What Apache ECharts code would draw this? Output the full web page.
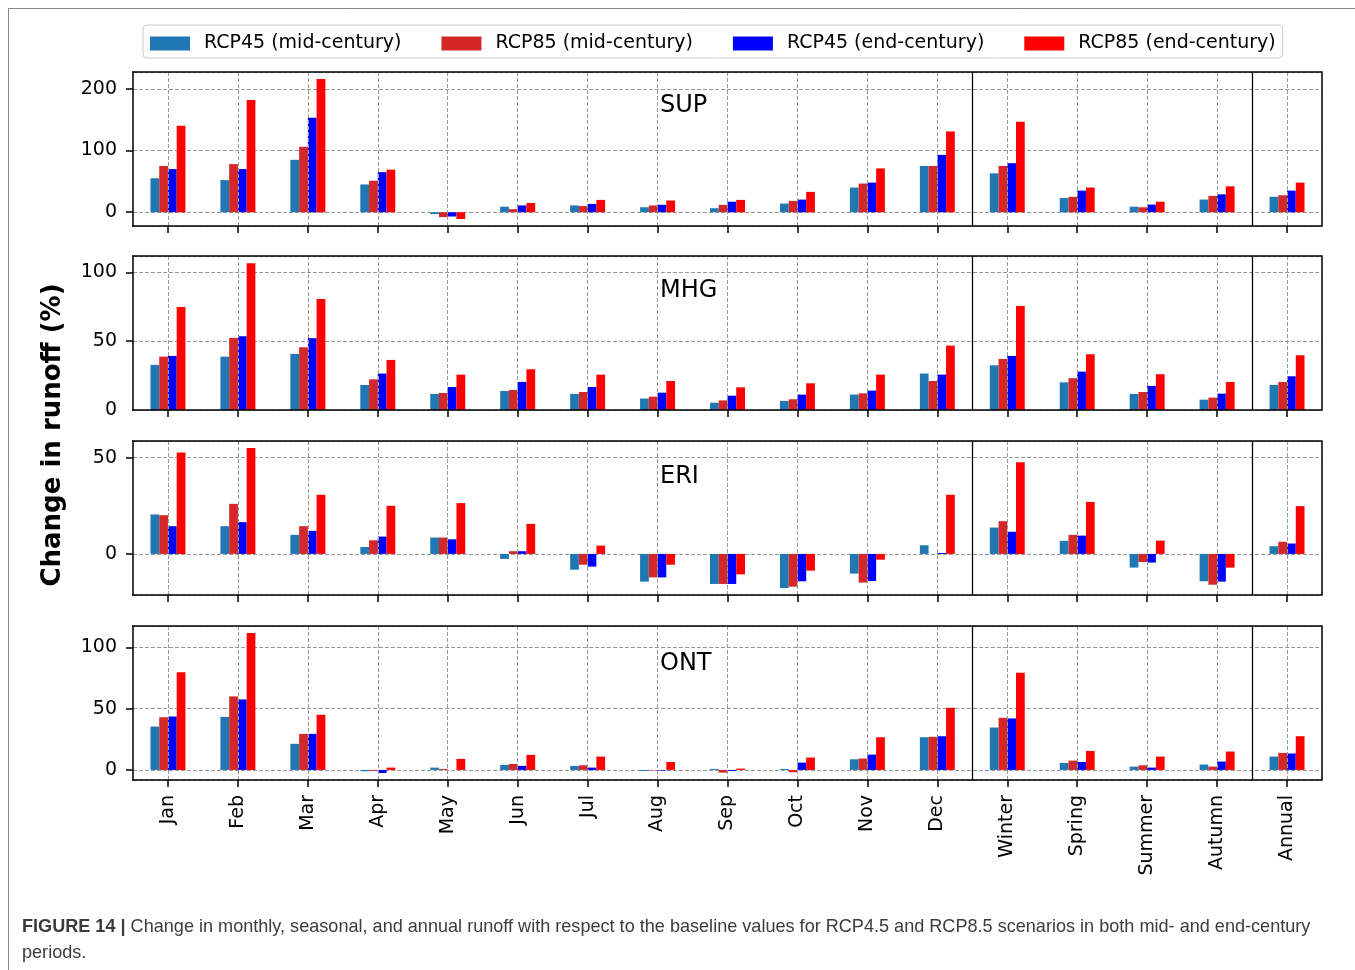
<!DOCTYPE html>
<html><head><meta charset="utf-8">
<script src="https://cdn.jsdelivr.net/npm/echarts@6/dist/echarts.min.js"></script>
<style>html,body{margin:0;padding:0;background:#fff}#c{width:1355px;height:970px}</style>
</head><body><div id="c"></div>
<script>
// ---------------- DATA ----------------
const categories = ['Jan','Feb','Mar','Apr','May','Jun','Jul','Aug','Sep','Oct','Nov','Dec','Winter','Spring','Summer','Autumn','Annual'];
const seriesNames = ['RCP45 (mid-century)','RCP85 (mid-century)','RCP45 (end-century)','RCP85 (end-century)'];
const basins = ['SUP','MHG','ERI','ONT'];
const yTickSteps = [100, 50, 50, 50];

const supRcp45Mid = [55,52,85,45,-3,9,11,8,6.5,14,40,75,63,23,9,20.5,25];
const supRcp85Mid = [75,78,106,51,-8,5,10,11,12,18.4,46.5,75,75,25,8,26.5,27.5];
const supRcp45End = [70,70,153,65,-7,11,13.5,12,17,20.5,48,93,79.5,35,12.4,29,35];
const supRcp85End = [140,182,216,69,-11,15,20,19,20,33,71,131,146.5,40,17,42,48];

const mhgRcp45Mid = [32.8,38.8,40.8,18.2,11.7,13.8,11.7,8.3,5.3,6.6,11.2,26.5,32.5,20.1,11.7,7.5,18.2];
const mhgRcp85Mid = [38.8,52.4,45.6,22.3,12.4,14.6,13.1,9.7,7,7.8,12.1,21.1,37.1,23.1,13.1,9,20.4];
const mhgRcp45End = [39.3,53.6,52.2,26.5,16.7,20.4,16.7,12.6,10.4,11.2,14.1,25.7,39.3,27.9,17.5,11.9,24.5];
const mhgRcp85End = [74.8,106.6,80.6,36.4,25.7,29.6,25.7,21.1,16.5,19.4,25.7,46.8,75.5,40.5,26,20.4,39.8];

const eriRcp45Mid = [20.5,14.4,9.9,3.6,8.5,-2.6,-8.2,-14.4,-15.6,-17.7,-10.2,4.5,13.7,6.8,-7.1,-14.2,4];
const eriRcp85Mid = [20.1,26,14.4,7.1,8.5,1.4,-5.6,-12.2,-15.6,-17,-14.9,0,17,9.9,-4.2,-16,6.3];
const eriRcp45End = [14.4,16.5,12,9,7.6,1.4,-6.6,-12.2,-15.6,-14.2,-14.1,0.5,11.5,9.5,-4.5,-14.4,5.4];
const eriRcp85End = [52.6,55,30.7,25,26.4,15.6,4.3,-5.6,-10.6,-8.7,-3,30.7,47.6,27,6.9,-7.1,24.8];

const ontRcp45Mid = [35.4,43.3,21.3,-1.1,1.9,4.1,3.3,-0.8,0.8,0.8,8.7,26.7,34.6,5.7,2.7,4.4,10.9];
const ontRcp85Mid = [43,60,29.4,-0.8,0.8,4.9,3.8,-0.3,-2.2,-1.9,9.3,27,42.5,7.6,3.8,2.7,13.9];
const ontRcp45End = [43.6,57.5,29.4,-2.5,0,3.3,1.9,-0.5,-0.8,6,12.5,27.5,42,6.5,1.9,6.8,13.4];
const ontRcp85End = [79.6,111.7,45,1.9,9,12.3,10.9,6.5,1.1,10.1,26.7,50.7,79.3,15.5,10.9,15,27.5];

const panelData = [
  [supRcp45Mid, supRcp85Mid, supRcp45End, supRcp85End],
  [mhgRcp45Mid, mhgRcp85Mid, mhgRcp45End, mhgRcp85End],
  [eriRcp45Mid, eriRcp85Mid, eriRcp45End, eriRcp85End],
  [ontRcp45Mid, ontRcp85Mid, ontRcp45End, ontRcp85End]
];

// ---------------- STYLE / LAYOUT ----------------
const colors = ['#1f77b4', '#d62728', '#0000ff', '#ff0000'];
const FONT = 'DejaVu Sans';
const CAPFONT = '"Liberation Sans Narrow", "Liberation Sans", Arial, sans-serif';
const gridLeft = 133, gridWidth = 1189, gridHeight = 154;
const gridTops = [72, 256, 441, 626];
const panelLabelOffsets = [34, 35, 36, 38];
const tickLen = 7;

function yRange(arrs) {
  const all = [].concat(...arrs);
  let lo = Math.min(0, Math.min(...all));
  let hi = Math.max(0, Math.max(...all));
  const m = 0.05 * (hi - lo);
  if (lo < 0) lo -= m;
  if (hi > 0) hi += m;
  return [lo, hi];
}

const grids = [], xAxes = [], yAxes = [], series = [], graphics = [];
const sepPositions = [categories.indexOf('Winter') - 0.5, categories.indexOf('Annual') - 0.5];

panelData.forEach((arrs, i) => {
  grids.push({left: gridLeft, top: gridTops[i], width: gridWidth, height: gridHeight,
    containLabel: false, outerBoundsMode: 'none', show: false});
  const last = i === panelData.length - 1;
  xAxes.push({
    gridIndex: i, type: 'category', data: categories, boundaryGap: true, position: 'bottom',
    axisLine: {show: false, onZero: false},
    axisTick: {show: true, alignWithLabel: true, length: tickLen, lineStyle: {color: '#000', width: 1.5}},
    axisLabel: {show: last, rotate: 90, fontSize: 19, fontFamily: FONT, color: '#000', margin: 15, interval: 0},
    splitLine: {show: false}
  });
  xAxes.push({gridIndex: i, type: 'value', min: -0.5, max: categories.length - 0.5, show: false,
    position: 'top', axisLine: {show: false, onZero: false}, axisTick: {show: false}, axisLabel: {show: false},
    splitLine: {show: false}});
  const [lo, hi] = yRange(arrs);
  const step = yTickSteps[i];
  yAxes.push({
    gridIndex: i, type: 'value', min: lo, max: hi, minInterval: step, maxInterval: step, position: 'left',
    axisLine: {show: false, onZero: false},
    axisTick: {show: true, length: tickLen, lineStyle: {color: '#000', width: 1.5}},
    axisLabel: {fontSize: 19, fontFamily: FONT, color: '#000', margin: 16,
      formatter: v => (Math.abs(v / step - Math.round(v / step)) < 1e-6 ? String(Math.round(v)) : '')},
    splitLine: {show: true, lineStyle: {type: [4, 2], color: '#999', width: 1}}
  });
  arrs.forEach((d, k) => {
    series.push({
      type: 'bar', name: seriesNames[k], xAxisIndex: 2 * i, yAxisIndex: i, data: d,
      barGap: '0%', barCategoryGap: '50%', z: 2,
      itemStyle: {color: colors[k]}, animation: false
    });
  });
  const mlData = categories.map((c, idx) => ({xAxis: idx, lineStyle: {type: [4, 2], color: '#999', width: 1}}));
  sepPositions.forEach(p => mlData.push({xAxis: p, lineStyle: {type: 'solid', color: '#000', width: 1.3}}));
  series.push({
    type: 'line', name: '_grid' + i, xAxisIndex: 2 * i + 1, yAxisIndex: i, data: [], z: 1, silent: true,
    animation: false,
    markLine: {symbol: 'none', silent: true, animation: false, label: {show: false}, data: mlData}
  });
  // hide the extent ticks ECharts adds at the frame corners (matplotlib has none there)
  [gridTops[i], gridTops[i] + gridHeight].forEach(yy => {
    graphics.push({type: 'rect', z: 99, silent: true,
      shape: {x: gridLeft - tickLen - 2, y: yy - 1.5, width: tickLen + 1.2, height: 3},
      style: {fill: '#fff'}});
  });
  graphics.push({type: 'rect', z: 100, silent: true,
    shape: {x: gridLeft, y: gridTops[i], width: gridWidth, height: gridHeight},
    style: {fill: 'none', stroke: '#000', lineWidth: 1.5}});
  graphics.push({type: 'text', z: 100, x: 660, y: gridTops[i] + panelLabelOffsets[i],
    style: {text: basins[i], font: '24px "DejaVu Sans"', fill: '#000', verticalAlign: 'middle', align: 'left'}});
});

graphics.push({type: 'polyline', z: 100, silent: true,
  shape: {points: [[8.5, 970], [8.5, 8.5], [1355, 8.5]]},
  style: {fill: 'none', stroke: '#888', lineWidth: 1}});
graphics.push({type: 'text', z: 100, x: 53, y: 435, rotation: Math.PI / 2,
  style: {text: 'Change in runoff (%)', font: 'bold 26px "DejaVu Sans"', fill: '#000', align: 'center', verticalAlign: 'middle'}});
graphics.push({type: 'text', z: 100, x: 22, y: 927, scaleX: 0.952, scaleY: 1,
  style: {text: '{b|FIGURE 14 |} Change in monthly, seasonal, and annual runoff with respect to the baseline values for RCP4.5 and RCP8.5 scenarios in both mid- and end-century',
    font: '19px ' + CAPFONT, fill: '#3c3c3c', verticalAlign: 'middle', align: 'left',
    rich: {b: {fontWeight: 'bold', fontSize: 19, fontFamily: CAPFONT, fill: '#3c3c3c'}}}});
graphics.push({type: 'text', z: 100, x: 22, y: 953, scaleX: 0.952, scaleY: 1,
  style: {text: 'periods.', font: '19px ' + CAPFONT, fill: '#3c3c3c', verticalAlign: 'middle', align: 'left'}});

const option = {
  backgroundColor: '#fff',
  animation: false,
  legend: {
    data: seriesNames, left: 143, top: 25, orient: 'horizontal',
    itemWidth: 40, itemHeight: 14, itemGap: 40, padding: [9, 7, 5, 7],
    borderColor: '#ccc', borderWidth: 1, borderRadius: 4, backgroundColor: '#fff',
    icon: 'rect', selectedMode: false,
    textStyle: {fontSize: 19, fontFamily: FONT, color: '#000', padding: [0, 0, 0, 9]}
  },
  grid: grids, xAxis: xAxes, yAxis: yAxes, series: series, graphic: graphics
};
const chart = echarts.init(document.getElementById('c'), null, {renderer: 'canvas'});
chart.setOption(option);
</script></body></html>
